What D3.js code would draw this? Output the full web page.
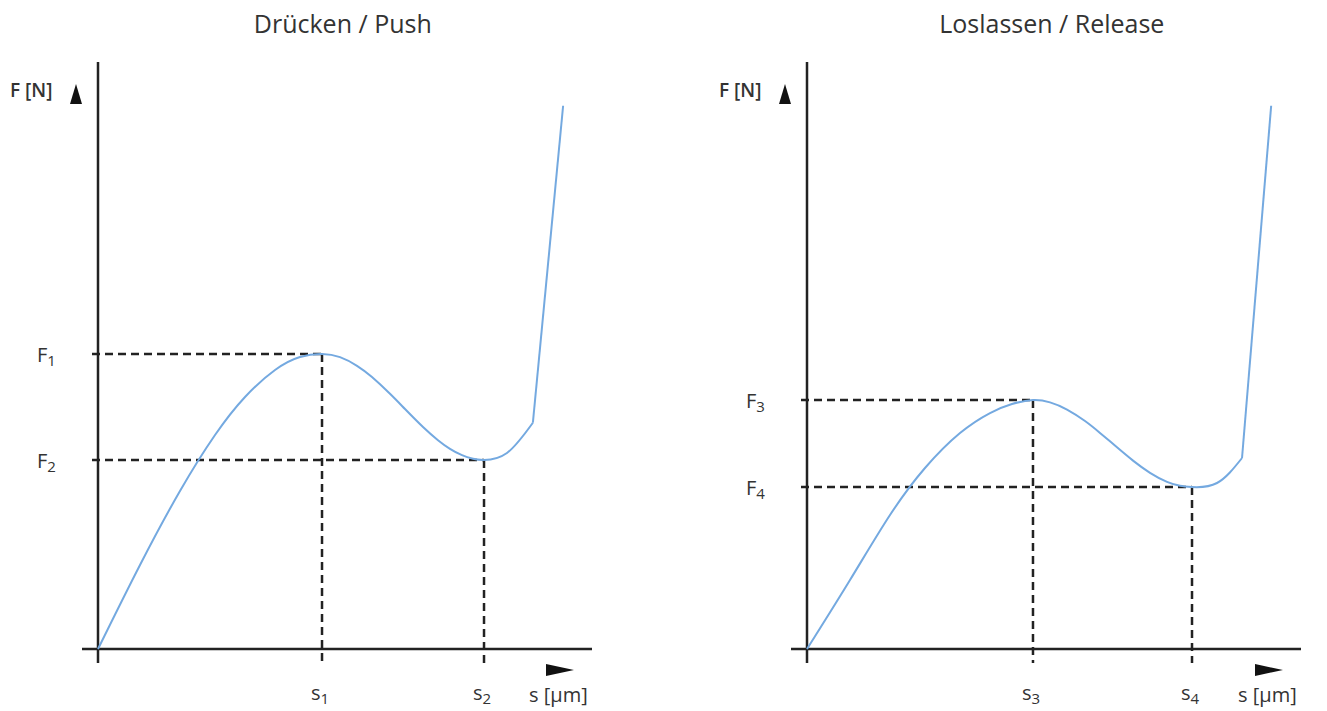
<!DOCTYPE html>
<html>
<head>
<meta charset="utf-8">
<script src="https://cdn.jsdelivr.net/npm/d3@7"></script>
<style>
  html, body { margin: 0; padding: 0; background: #fff; }
  svg { display: block; font-family: "Open Sans", "Noto Sans", sans-serif; }
</style>
</head>
<body>
<svg id="chart" width="1327" height="711"></svg>
<script>
// ---- Data (arbitrary units: s and F on 0..100 scales) ----
const panelTitles = ["Drücken / Push", "Loslassen / Release"];
const yAxisLabel = "F [N]";
const xAxisLabel = "s [µm]";

// Push curve: smooth part, then the steep straight rise
const pushS = [0, 8.75, 17.08, 24.38, 30.63, 36.88, 42.08, 46.67, 50.42, 53.96, 57.08, 60.83, 63.96, 67.71, 70.83, 73.33, 75.83, 78.13, 80.42, 85.2, 90.6];
const pushF = [0, 15.56, 29.26, 39.63, 46.67, 51.67, 54.07, 54.63, 54.04, 52.44, 50.35, 47.26, 44.44, 41.11, 38.67, 37.06, 35.89, 35.22, 35.0, 36.3, 41.9];
const pushRiseS = [90.6, 96.9];
const pushRiseF = [41.9, 100.6];
const pushMarkS = [46.67, 80.42];
const pushMarkF = [54.63, 35.0];
const pushMarkSLabels = ["1", "2"];
const pushMarkFLabels = ["1", "2"];

// Release curve
const releaseS = [0, 8.96, 17.29, 24.58, 31.88, 38.13, 42.71, 47.08, 50.63, 54.17, 57.92, 61.04, 64.58, 67.92, 71.46, 75.0, 77.71, 80.21, 85.42, 90.63];
const releaseF = [0, 12.78, 24.81, 33.52, 40.0, 43.7, 45.37, 46.11, 45.67, 44.35, 42.22, 40.02, 37.35, 34.89, 32.63, 30.96, 30.22, 30.0, 30.74, 35.37];
const releaseRiseS = [90.63, 96.7];
const releaseRiseF = [35.37, 100.6];
const releaseMarkS = [47.08, 80.21];
const releaseMarkF = [46.11, 30.0];
const releaseMarkSLabels = ["3", "4"];
const releaseMarkFLabels = ["3", "4"];

// ---- Drawing ----
const svg = d3.select("#chart");
const axisColor = "#222";
const textColor = "#333";
const curveColor = "#74a9e0";

const panels = [
  { title: panelTitles[0], ox: 98, s: pushS, f: pushF, rs: pushRiseS, rf: pushRiseF,
    ms: pushMarkS, mf: pushMarkF, msl: pushMarkSLabels, mfl: pushMarkFLabels },
  { title: panelTitles[1], ox: 807, s: releaseS, f: releaseF, rs: releaseRiseS, rf: releaseRiseF,
    ms: releaseMarkS, mf: releaseMarkF, msl: releaseMarkSLabels, mfl: releaseMarkFLabels }
];

panels.forEach(p => {
  const x = d3.scaleLinear().domain([0, 100]).range([p.ox, p.ox + 480]);
  const y = d3.scaleLinear().domain([0, 100]).range([649, 109]);
  const g = svg.append("g");

  // Title
  g.append("text")
    .attr("x", x(51))
    .attr("y", 33)
    .attr("text-anchor", "middle")
    .attr("font-size", 25)
    .attr("fill", textColor)
    .text(p.title);

  // Dashed guide lines
  p.ms.forEach((sv, i) => {
    const fv = p.mf[i];
    g.append("line")
      .attr("x1", x(0) - 6).attr("x2", x(sv))
      .attr("y1", y(fv)).attr("y2", y(fv))
      .attr("stroke", axisColor).attr("stroke-width", 2.5)
      .attr("stroke-dasharray", "8,5");
    g.append("line")
      .attr("x1", x(sv)).attr("x2", x(sv))
      .attr("y1", y(fv)).attr("y2", y(0) + 14)
      .attr("stroke", axisColor).attr("stroke-width", 2.5)
      .attr("stroke-dasharray", "8,5");

    // F labels
    const ft = g.append("text")
      .attr("x", x(0) - 61)
      .attr("y", y(fv) + 8)
      .attr("font-size", 20)
      .attr("fill", textColor);
    ft.append("tspan").text("F");
    ft.append("tspan").attr("font-size", 15).attr("dy", 4).text(p.mfl[i]);

    // s labels
    const st = g.append("text")
      .attr("x", x(sv) - 11)
      .attr("y", 700)
      .attr("font-size", 20)
      .attr("fill", textColor);
    st.append("tspan").text("s");
    st.append("tspan").attr("font-size", 15).attr("dy", 4).text(p.msl[i]);
  });

  // Axes
  g.append("line")
    .attr("x1", x(0)).attr("x2", x(0))
    .attr("y1", 62).attr("y2", y(0) + 14)
    .attr("stroke", axisColor).attr("stroke-width", 2.5);
  g.append("line")
    .attr("x1", x(0) - 16).attr("x2", x(0) + 494)
    .attr("y1", y(0)).attr("y2", y(0))
    .attr("stroke", axisColor).attr("stroke-width", 2.5);

  // Axis arrows
  const ax = x(0) - 22;
  g.append("path")
    .attr("d", `M${ax},84 L${ax + 6},104 L${ax - 6},104 Z`)
    .attr("fill", "#111");
  const bx = x(0) + 448;
  g.append("path")
    .attr("d", `M${bx},664 L${bx + 28},670 L${bx},676 Z`)
    .attr("fill", "#111");

  // Axis labels
  g.append("text")
    .attr("x", x(0) - 88)
    .attr("y", 97)
    .attr("font-size", 19)
    .attr("font-weight", 600)
    .attr("fill", textColor)
    .text(yAxisLabel);
  g.append("text")
    .attr("x", x(0) + 431)
    .attr("y", 702)
    .attr("font-size", 20)
    .attr("fill", textColor)
    .text(xAxisLabel);

  // Curve
  const pts = p.s.map((sv, i) => [sv, p.f[i]]);
  const line = d3.line().x(d => x(d[0])).y(d => y(d[1])).curve(d3.curveNatural);
  g.append("path")
    .attr("d", line(pts))
    .attr("fill", "none")
    .attr("stroke", curveColor)
    .attr("stroke-width", 2);
  const rise = p.rs.map((sv, i) => [sv, p.rf[i]]);
  g.append("path")
    .attr("d", d3.line().x(d => x(d[0])).y(d => y(d[1]))(rise))
    .attr("fill", "none")
    .attr("stroke", curveColor)
    .attr("stroke-width", 2);
});
</script>
</body>
</html>
